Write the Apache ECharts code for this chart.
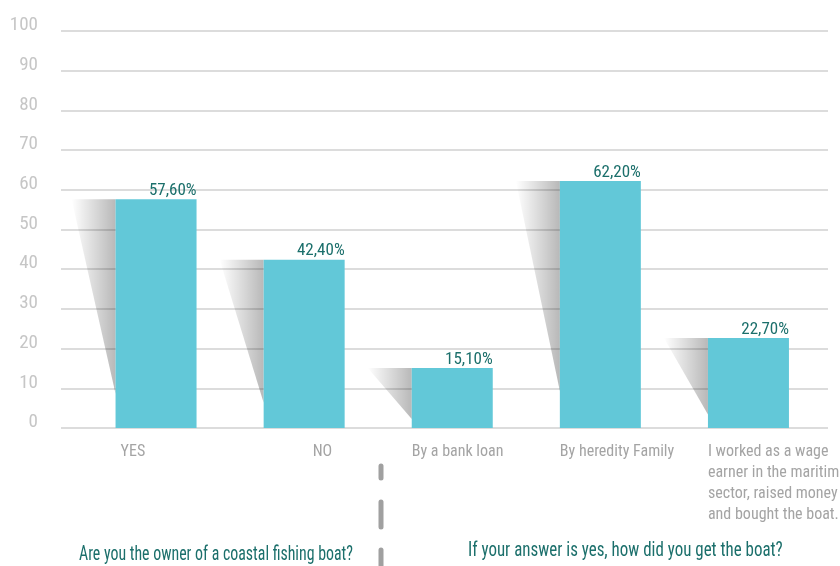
<!DOCTYPE html>
<html>
<head>
<meta charset="utf-8">
<script src="https://cdn.jsdelivr.net/npm/echarts@6/dist/echarts.min.js"></script>
<style>html,body{margin:0;padding:0;background:#fff}#c{width:840px;height:566px}</style>
</head>
<body>
<div id="c"></div>
<script>
const categories = ['YES', 'NO', 'By a bank loan', 'By heredity Family',
  'I worked as a wage\nearner in the maritime\nsector, raised money\nand bought the boat.'];
const values = [57.6, 42.4, 15.1, 62.2, 22.7];
const yTicks = [0, 10, 20, 30, 40, 50, 60, 70, 80, 90, 100];
const question1 = 'Are you the owner of a coastal fishing boat?';
const question2 = 'If your answer is yes, how did you get the boat?';

const FONT = '"Roboto Condensed", "DejaVu Sans Condensed", Roboto, sans-serif';
const BAR_W = 81;
const TEAL = '#1b6f6b';

const chart = echarts.init(document.getElementById('c'), null, {renderer: 'canvas'});
const gridTop = 31, gridBottom = 566 - 428;

chart.setOption({
  animation: false,
  backgroundColor: '#fff',
  grid: [
    {left: 61, right: 12, top: gridTop, bottom: gridBottom, outerBoundsMode: 'none'},
    {left: 82, width: 740.5, top: gridTop, bottom: gridBottom, outerBoundsMode: 'none'},
    {left: 82 - BAR_W / 2, width: 740.5, top: gridTop, bottom: gridBottom, outerBoundsMode: 'none'}
  ],
  xAxis: [
    {gridIndex: 0, type: 'category', data: categories, show: false},
    {gridIndex: 1, type: 'category', data: categories, show: false},
    {gridIndex: 2, type: 'category',
      data: categories.map((c, i) => i === 1 ? {value: c, textStyle: {align: 'left', padding: [0, 0, 0, 49]}}
                                   : i === 0 ? {value: c, textStyle: {align: 'left', padding: [0, 0, 0, 5]}} : c),
      axisLine: {show: false}, axisTick: {show: false},
      axisLabel: {align: 'left', margin: 13, color: '#a4a4a4', fontFamily: FONT, fontSize: 16, lineHeight: 21,
        interval: 0, hideOverlap: false}}
  ],
  yAxis: [
    {gridIndex: 0, type: 'value', min: yTicks[0], max: yTicks[yTicks.length - 1], interval: 10,
      axisLine: {show: false}, axisTick: {show: false},
      axisLabel: {margin: 23, color: '#c6c6c6', fontFamily: FONT, fontSize: 19, verticalAlign: 'bottom', padding: [0, 0, -4, 0]},
      splitLine: {lineStyle: {color: '#dcdcdc', width: 2}}},
    {gridIndex: 1, type: 'value', min: 0, max: 100, show: false},
    {gridIndex: 2, type: 'value', min: 0, max: 100, show: false}
  ],
  series: [
    {
      type: 'custom', xAxisIndex: 1, yAxisIndex: 1, z: 1, clip: false,
      data: values.map((v, i) => [i, v]),
      renderItem: function (params, api) {
        const top = api.coord([api.value(0), api.value(1)]);
        const zero = api.coord([api.value(0), 0]);
        const L = top[0] - BAR_W / 2;
        const h = zero[1] - top[1];
        const bot = zero[1] - 0.15 * h;
        const w = 44;
        return {
          type: 'polygon',
          shape: {points: [[L - w, top[1]], [L, top[1]], [L, bot]]},
          style: {
            fill: new echarts.graphic.LinearGradient(0, 0, 1, 0, [
              {offset: 0, color: 'rgba(0,0,0,0.0)'},
              {offset: 1, color: 'rgba(0,0,0,0.28)'}
            ])
          }
        };
      }
    },
    {
      type: 'bar', xAxisIndex: 1, yAxisIndex: 1, z: 3,
      data: values, barWidth: BAR_W,
      itemStyle: {color: '#62c8d8'},
      label: {
        show: true, position: [BAR_W, 0], align: 'right', verticalAlign: 'bottom',
        color: TEAL, fontFamily: FONT, fontSize: 17,
        formatter: p => p.value.toFixed(2).replace('.', ',') + '%'
      }
    }
  ],
  graphic: [
    {type: 'text', x: 79, y: 555, scaleX: 0.756,
      style: {text: question1, fill: TEAL, font: '21px ' + FONT, verticalAlign: 'middle'}},
    {type: 'text', x: 468, y: 551, scaleX: 0.807,
      style: {text: question2, fill: TEAL, font: '21px ' + FONT, verticalAlign: 'middle'}},
    {type: 'line', shape: {x1: 381, y1: 466, x2: 381, y2: 478}, style: {stroke: '#a0a0a0', lineWidth: 5, lineCap: 'round'}},
    {type: 'line', shape: {x1: 381, y1: 502, x2: 381, y2: 527}, style: {stroke: '#a0a0a0', lineWidth: 5, lineCap: 'round'}},
    {type: 'line', shape: {x1: 381, y1: 550, x2: 381, y2: 570}, style: {stroke: '#a0a0a0', lineWidth: 5, lineCap: 'round'}}
  ]
});
</script>
</body>
</html>
